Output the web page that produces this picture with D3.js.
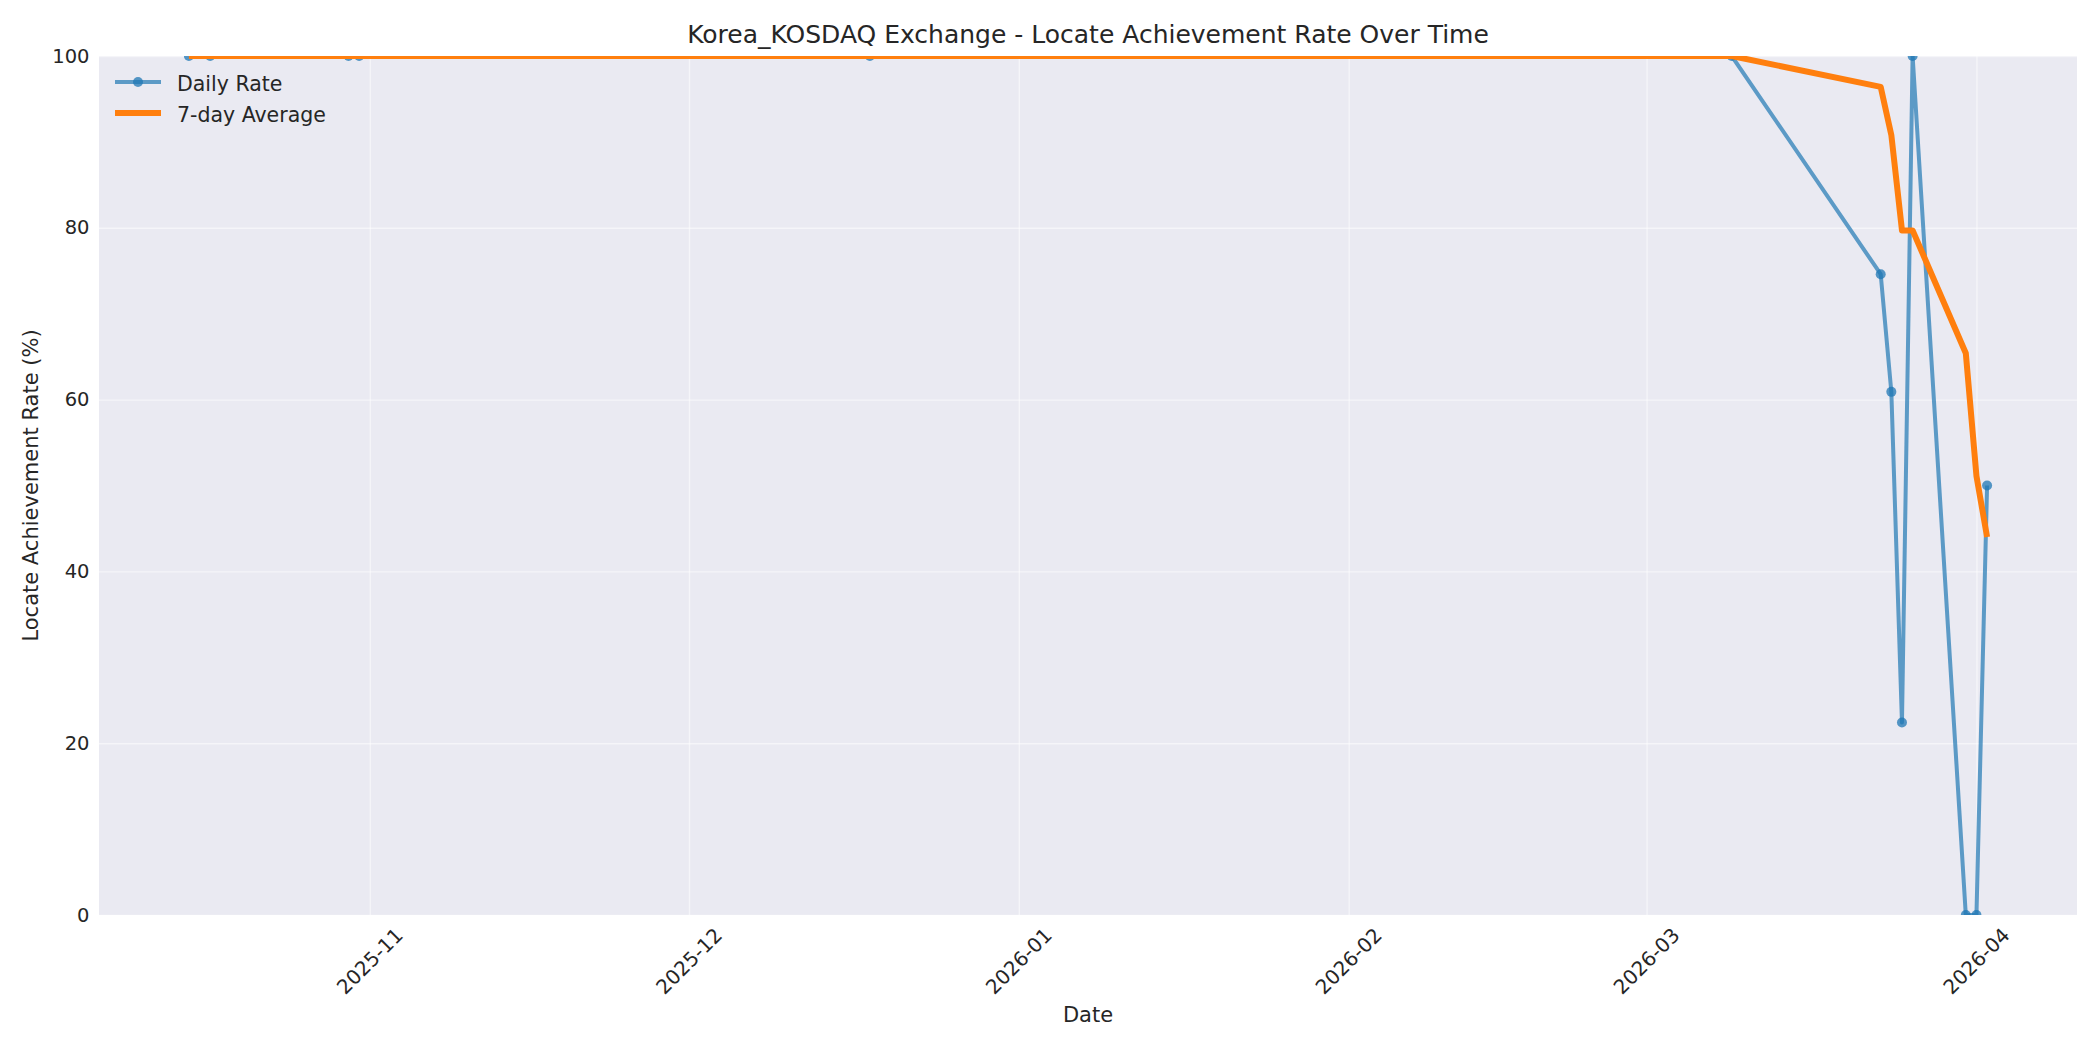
<!DOCTYPE html>
<html>
<head>
<meta charset="utf-8">
<script src="https://cdn.jsdelivr.net/npm/d3@7"></script>
<style>
    body { margin: 0; background: #fff; }
    svg { font-family: "DejaVu Sans", sans-serif; }
    .grid line { stroke: #fff; stroke-opacity: 0.5; stroke-width: 1.4; }
    .grid path { display: none; }
</style>
</head>
<body>
<script>
// data
var dates = ["2025-10-15", "2025-10-17", "2025-10-30", "2025-10-31", "2025-12-18", "2026-03-09",
    "2026-03-23", "2026-03-24", "2026-03-25", "2026-03-26", "2026-03-31", "2026-04-01", "2026-04-02"];
var dailyRate = [100, 100, 100, 100, 100, 100, 74.6, 60.9, 22.4, 100, 0, 0, 50];
var avg7 = [100, 100, 100, 100, 100, 100, 96.4, 90.8, 79.7, 79.7, 65.4, 51.1, 44.0];
var xTickLabels = ["2025-11", "2025-12", "2026-01", "2026-02", "2026-03", "2026-04"];
var yTicks = [0, 20, 40, 60, 80, 100];
var seriesNames = ["Daily Rate", "7-day Average"];

var W = 2100, H = 1050;
var margin = {top: 56, right: 23, bottom: 135, left: 99},
    width = W - margin.left - margin.right,
    height = H - margin.top - margin.bottom;

var parse = d3.utcParse("%Y-%m-%d");
var parseMonth = d3.utcParse("%Y-%m");
var dailyData = dates.map(function (d, i) { return {date: parse(d), value: dailyRate[i]}; });
var avgData = dates.map(function (d, i) { return {date: parse(d), value: avg7[i]}; });

// matplotlib style 5% margins on x
var ext = d3.extent(dailyData, function (d) { return d.date; });
var pad = (ext[1] - ext[0]) * 0.05;
var x = d3.scaleUtc().domain([new Date(+ext[0] - pad), new Date(+ext[1] + pad)]).range([0, width]);
var y = d3.scaleLinear().domain([0, 100]).range([height, 0]);

var svg = d3.select("body").append("svg")
    .attr("width", W)
    .attr("height", H);

var g = svg.append("g")
    .attr("transform", "translate(" + margin.left + "," + margin.top + ")");

g.append("rect")
    .attr("width", width)
    .attr("height", height)
    .attr("fill", "#EAEAF2");

g.append("clipPath").attr("id", "plotclip")
    .append("rect").attr("width", width).attr("height", height);

// grid
var xTickDates = xTickLabels.map(parseMonth);
g.append("g")
    .attr("class", "grid")
    .attr("transform", "translate(0," + height + ")")
    .call(d3.axisBottom(x).tickValues(xTickDates).tickSize(-height).tickFormat(""));
g.append("g")
    .attr("class", "grid")
    .call(d3.axisLeft(y).tickValues(yTicks).tickSize(-width).tickFormat(""));

var plot = g.append("g").attr("clip-path", "url(#plotclip)");

var line = d3.line()
    .x(function (d) { return x(d.date); })
    .y(function (d) { return y(d.value); });

// daily rate line + markers
plot.append("path")
    .datum(dailyData)
    .attr("fill", "none")
    .attr("stroke", "#1f77b4")
    .attr("stroke-opacity", 0.7)
    .attr("stroke-width", 4)
    .attr("stroke-linejoin", "round")
    .attr("d", line);

plot.selectAll(".dot")
    .data(dailyData)
    .enter()
    .append("circle")
    .attr("class", "dot")
    .attr("cx", function (d) { return x(d.date); })
    .attr("cy", function (d) { return y(d.value); })
    .attr("r", 5)
    .attr("fill", "#1f77b4")
    .attr("fill-opacity", 0.75);

// 7-day average
plot.append("path")
    .datum(avgData)
    .attr("fill", "none")
    .attr("stroke", "#ff7f0e")
    .attr("stroke-width", 6)
    .attr("stroke-linejoin", "round")
    .attr("d", line);

// tick labels
var xAxis = g.append("g")
    .attr("transform", "translate(0," + height + ")");
xAxis.selectAll("text")
    .data(xTickDates)
    .enter()
    .append("text")
    .attr("transform", function (d) { return "translate(" + x(d) + ",46) rotate(-45)"; })
    .attr("text-anchor", "middle")
    .attr("dominant-baseline", "central")
    .attr("fill", "#262626")
    .style("font-size", "20px")
    .text(function (d, i) { return xTickLabels[i]; });

g.append("g").selectAll("text")
    .data(yTicks)
    .enter()
    .append("text")
    .attr("x", -9.5)
    .attr("y", function (d) { return y(d); })
    .attr("text-anchor", "end")
    .attr("dominant-baseline", "central")
    .attr("fill", "#262626")
    .style("font-size", "19.5px")
    .text(function (d) { return d; });

// axis labels + title
svg.append("text")
    .attr("x", margin.left + width / 2)
    .attr("y", 1022)
    .attr("text-anchor", "middle")
    .attr("fill", "#262626")
    .style("font-size", "21px")
    .text("Date");

svg.append("text")
    .attr("transform", "translate(37.5," + (margin.top + height / 2) + ") rotate(-90)")
    .attr("text-anchor", "middle")
    .attr("fill", "#262626")
    .style("font-size", "21px")
    .text("Locate Achievement Rate (%)");

svg.append("text")
    .attr("x", margin.left + width / 2)
    .attr("y", 43)
    .attr("text-anchor", "middle")
    .attr("fill", "#262626")
    .style("font-size", "25px")
    .text("Korea_KOSDAQ Exchange - Locate Achievement Rate Over Time");

// legend
var legend = svg.append("g");
var colors = ["#1f77b4", "#ff7f0e"];
seriesNames.forEach(function (name, i) {
    var ly = 82 + i * 31;
    legend.append("line")
        .attr("x1", 115).attr("x2", 161)
        .attr("y1", ly).attr("y2", ly)
        .attr("stroke", colors[i])
        .attr("stroke-opacity", i === 0 ? 0.7 : 1)
        .attr("stroke-width", i === 0 ? 4 : 6);
    if (i === 0) {
        legend.append("circle")
            .attr("cx", 138).attr("cy", ly).attr("r", 5)
            .attr("fill", colors[i]).attr("fill-opacity", 0.75);
    }
    legend.append("text")
        .attr("x", 177)
        .attr("y", ly + 8.5)
        .attr("fill", "#262626")
        .style("font-size", "20.5px")
        .text(name);
});
</script>
</body>
</html>
